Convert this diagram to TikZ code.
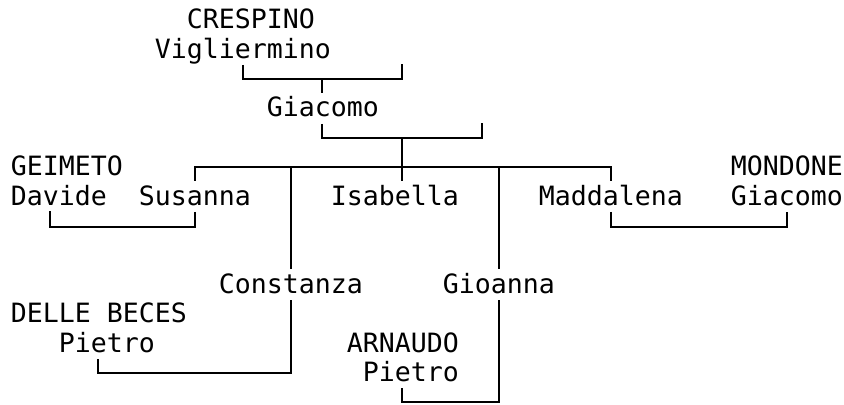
\documentclass[tikz,border=0pt]{standalone}
\usepackage{fontspec}
\newfontfamily\treefont{DejaVu Sans Mono}

\begin{document}
\begin{tikzpicture}[x=12pt,y=22.05pt,line width=1.4pt,
  person/.style={font=\treefont\fontsize{19.93pt}{22pt}\selectfont,inner sep=0pt,
    text height=17.6pt,text depth=4.4pt,anchor=west}]
  \useasboundingbox (-1.125,0.68) rectangle (51.625,-13.095);
  % names, one row per line of the tree
  \node[person] (crespino) at (10.5,0) {CRESPINO};
  \node[person] (vigl) at (8.5,-1) {Vigliermino};
  \node[person] (giacomo) at (15.5,-3) {Giacomo};
  \node[person] (geimeto) at (-0.5,-5) {GEIMETO};
  \node[person] (mondone) at (44.5,-5) {MONDONE};
  \node[person] (davide) at (-0.5,-6) {Davide};
  \node[person] (susanna) at (7.5,-6) {Susanna};
  \node[person] (isabella) at (19.5,-6) {Isabella};
  \node[person] (maddalena) at (32.5,-6) {Maddalena};
  \node[person] (giacomoM) at (44.5,-6) {Giacomo};
  \node[person] (constanza) at (12.5,-9) {Constanza};
  \node[person] (gioanna) at (26.5,-9) {Gioanna};
  \node[person] (delle) at (-0.5,-10) {DELLE BECES};
  \node[person] (pietroD) at (2.5,-11) {Pietro};
  \node[person] (arnaudo) at (20.5,-11) {ARNAUDO};
  \node[person] (pietroA) at (21.5,-12) {Pietro};

  \coordinate (w1) at (24,-1.5);
  \coordinate (j1) at (19,-2);
  \coordinate (w2) at (29,-3.5);
  \coordinate (j2) at (24,-4);
  \coordinate (j3) at (24,-5);
  \coordinate (d1) at (2,-6.5);
  \coordinate (p1) at (5,-12);
  \coordinate (p2) at (24,-13);

  \draw (vigl.south) |- (j1) -| (w1);
  \draw (j1) -- (j1 |- giacomo.north);
  \draw (j1 |- giacomo.south) |- (j2) -| (w2);
  \draw (j2) -- (j3);
  \draw (susanna.north) |- (j3) -| (maddalena.north);
  \draw (j3) -- (j3 |- isabella.north);
  \draw (constanza.north |- j3) -- (constanza.north);
  \draw (gioanna.north |- j3) -- (gioanna.north);
  % couples
  \draw (susanna.south) -- ++(0,-0.5) -| (d1);
  \draw (maddalena.south) -- ++(0,-0.5) -| (giacomoM.south);
  \draw (constanza.south) |- (p1) -- (p1 |- pietroD.south);
  \draw (gioanna.south) |- (p2) -- (p2 |- pietroA.south);
\end{tikzpicture}
\end{document}
